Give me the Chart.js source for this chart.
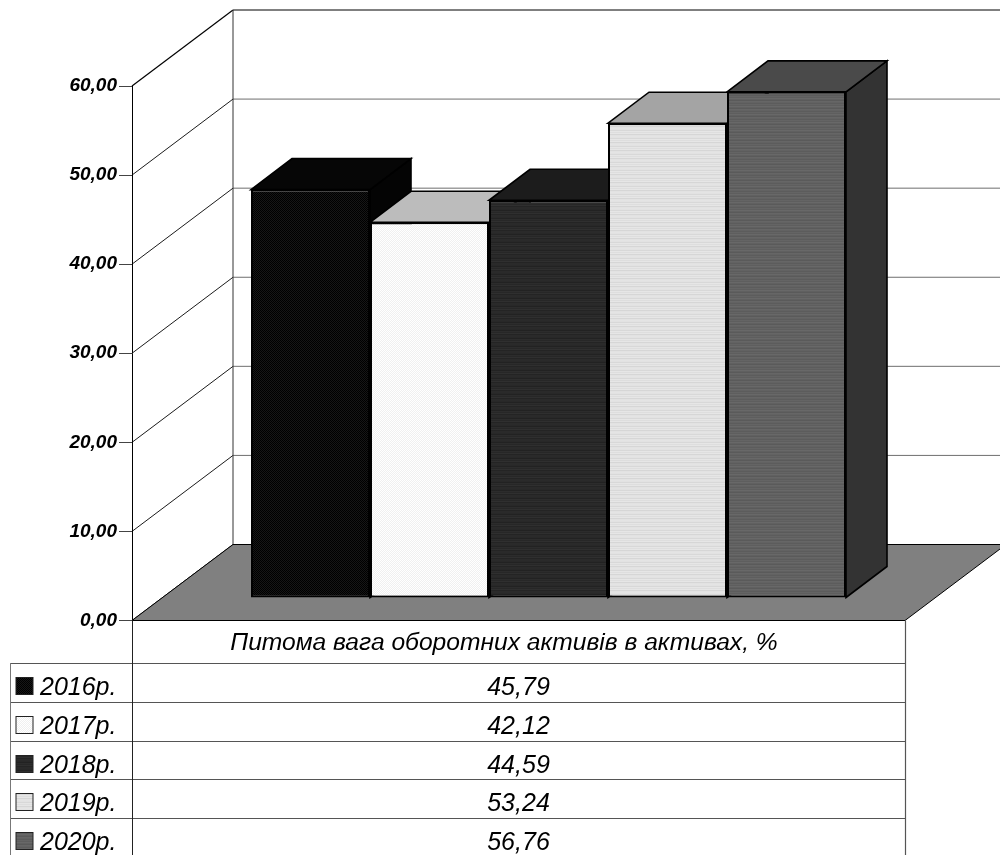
<!DOCTYPE html>
<html>
<head>
<meta charset="utf-8">
<title>Питома вага оборотних активів</title>
<script src="https://cdn.jsdelivr.net/npm/chart.js@4"></script>
<style>
  html, body { margin: 0; padding: 0; background: #fff; }
  canvas { display: block; }
</style>
</head>
<body>
<canvas id="assets_chart" width="1000" height="855"></canvas>
<script>
const categories = ['Питома вага оборотних активів в активах, %'];
const years = ['2016р.', '2017р.', '2018р.', '2019р.', '2020р.'];
const shareValues = [45.79, 42.12, 44.59, 53.24, 56.76];
const yTicks = [0, 10, 20, 30, 40, 50, 60];

// depth of the box in px: whole floor, and the bars standing on it
const floorDepth = { x: 101, y: 76 };
const barDepth = { x: 41, y: 31 };
const barLift = 23;
const tableRight = 905;
const tableLeft = 10;
const tableRows = [663, 702, 741, 779, 818];

const fmt = (v) => v.toFixed(2).replace('.', ',');

// small repeating tiles for the bar fills
function tile(rows, cols) {
    const c = document.createElement('canvas');
    c.width = cols[0].length;
    c.height = rows;
    const g = c.getContext('2d');
    for (let y = 0; y < rows; y++) {
        for (let x = 0; x < cols[0].length; x++) {
            g.fillStyle = cols[y % cols.length][x];
            g.fillRect(x, y, 1, 1);
        }
    }
    return g.createPattern(c, 'repeat');
}

function stripes(shades) {
    return tile(shades.length, shades.map((s) => [s]));
}

const fronts = [
    tile(2, [['#000000', '#161616'], ['#161616', '#000000']]),
    tile(2, [['#ffffff', '#f0f0f0'], ['#f0f0f0', '#ffffff']]),
    stripes(['#2a2a2a', '#282828', '#222222', '#2c2c2c', '#272727', '#2f2f2f', '#242424', '#2a2a2a']),
    stripes(['#e4e4e4', '#e2e2e2', '#d8d8d8', '#e6e6e6', '#dedede', '#e6e6e6', '#d6d6d6', '#e2e2e2']),
    stripes(['#646464', '#5e5e5e', '#686868', '#606060', '#5a5a5a', '#666666', '#626262', '#5c5c5c'])
];
const tops = ['#060606', '#bcbcbc', '#1c1c1c', '#a4a4a4', '#4a4a4a'];
const sides = ['#040404', '#8a8a8a', '#141414', '#707070', '#333333'];

function poly(ctx, pts, fill, stroke, width) {
    ctx.beginPath();
    pts.forEach((p, i) => (i ? ctx.lineTo(p[0], p[1]) : ctx.moveTo(p[0], p[1])));
    ctx.closePath();
    if (fill) {
        ctx.fillStyle = fill;
        ctx.fill();
    }
    if (stroke) {
        ctx.strokeStyle = stroke;
        ctx.lineWidth = width;
        ctx.stroke();
    }
}

function line(ctx, x0, y0, x1, y1, color, width) {
    ctx.beginPath();
    ctx.moveTo(x0, y0);
    ctx.lineTo(x1, y1);
    ctx.strokeStyle = color;
    ctx.lineWidth = width;
    ctx.stroke();
}

const boxPlugin = {
    id: 'box3d',
    // walls and floor go under the bars
    beforeDatasetsDraw(chart) {
        const ctx = chart.ctx;
        const y = chart.scales.y;
        const left = chart.chartArea.left;
        const bottom = y.getPixelForValue(0);
        const backX = left + floorDepth.x;

        ctx.save();
        yTicks.forEach((t) => {
            const py = y.getPixelForValue(t);
            line(ctx, left, py, backX, py - floorDepth.y, '#000', t === 60 ? 1.2 : 0.9);
            if (t > 0) {
                line(ctx, backX, py - floorDepth.y, 1006, py - floorDepth.y, t === 60 ? '#000' : '#6e6e6e', 1);
            }
        });
        line(ctx, backX, y.getPixelForValue(60) - floorDepth.y, backX, bottom - floorDepth.y, '#333', 1);

        poly(ctx, [
            [left, bottom],
            [tableRight, bottom],
            [tableRight + floorDepth.x, bottom - floorDepth.y],
            [backX, bottom - floorDepth.y]
        ], '#808080');
        line(ctx, backX, bottom - floorDepth.y, 1006, bottom - floorDepth.y, '#000', 1.2);
        line(ctx, left, bottom, backX, bottom - floorDepth.y, '#000', 1);
        line(ctx, tableRight, bottom, tableRight + floorDepth.x, bottom - floorDepth.y, '#000', 1);
        line(ctx, left, bottom, tableRight, bottom, '#000', 1.2);
        ctx.restore();
    },
    // bars are painted left to right further down, the near ones have to cover the far ones
    beforeDatasetDraw() {
        return false;
    },
    afterDatasetsDraw(chart) {
        const ctx = chart.ctx;
        ctx.save();
        years.forEach((_, i) => {
            const meta = chart.getDatasetMeta(i);
            const bar = meta.data[0];
            const l = bar.x - bar.width / 2;
            const r = bar.x + bar.width / 2;
            const t = bar.y;
            const b = bar.base;
            const dx = barDepth.x;
            const dy = barDepth.y;
            poly(ctx, [[r, b], [r + dx, b - dy], [r + dx, t - dy], [r, t]], sides[i], '#000', 1.6);
            poly(ctx, [[l, t], [r, t], [r + dx, t - dy], [l + dx, t - dy]], tops[i], '#000', 1.6);
            meta.controller.draw();
        });
        ctx.restore();
    },
    // data table under the floor
    afterDraw(chart) {
        const ctx = chart.ctx;
        const left = chart.chartArea.left;
        const bottom = chart.scales.y.getPixelForValue(0);
        const mid = (left + tableRight) / 2;

        ctx.save();
        tableRows.forEach((py) => line(ctx, tableLeft, py + 0.5, tableRight, py + 0.5, '#555', 1.2));
        line(ctx, tableLeft + 0.5, tableRows[0], tableLeft + 0.5, 855, '#777', 1);
        line(ctx, left + 0.5, bottom, left + 0.5, 855, '#222', 1);
        line(ctx, tableRight + 0.5, bottom, tableRight + 0.5, 855, '#555', 1.2);

        ctx.fillStyle = '#000';
        ctx.textBaseline = 'alphabetic';
        ctx.font = 'italic 24.6px "Liberation Sans"';
        ctx.textAlign = 'center';
        ctx.fillText(categories[0], 504, 650);

        ctx.font = 'italic 25px "Liberation Sans"';
        years.forEach((year, i) => {
            const top = tableRows[i];
            ctx.fillStyle = fronts[i];
            ctx.fillRect(16, top + 14.5, 17, 17);
            ctx.strokeStyle = '#222';
            ctx.lineWidth = 1;
            ctx.strokeRect(16, top + 14.5, 17, 17);

            ctx.fillStyle = '#000';
            ctx.textAlign = 'left';
            ctx.fillText(year, 40, top + 31.5);
            ctx.textAlign = 'center';
            ctx.fillText(fmt(shareValues[i]), mid, top + 31.5);
        });
        ctx.restore();
    }
};

const ctx = document.getElementById('assets_chart').getContext('2d');

const sharesChart = new Chart(ctx, {
    type: 'bar',
    data: {
        labels: categories,
        datasets: years.map((year, i) => ({
            label: year,
            data: [shareValues[i]],
            yAxisID: 'yBars',
            backgroundColor: fronts[i],
            borderColor: '#000',
            borderWidth: 2,
            borderSkipped: false,
            categoryPercentage: 595 / 833,
            barPercentage: 1
        }))
    },
    options: {
        responsive: false,
        animation: false,
        layout: { padding: { top: 86, right: 35, bottom: 234.5, left: 0 } },
        plugins: { legend: { display: false }, tooltip: { enabled: false } },
        scales: {
            x: { display: false },
            y: {
                min: 0,
                max: 60,
                position: 'left',
                afterFit: (scale) => { scale.width = 132; },
                afterBuildTicks: (scale) => { scale.ticks = yTicks.map((value) => ({ value })); },
                border: { color: '#000', width: 1 },
                grid: { drawOnChartArea: false, color: '#444', tickLength: 13 },
                ticks: {
                    padding: 2,
                    color: '#000',
                    font: { family: '"Liberation Sans"', size: 19, weight: 'bold', style: 'italic' },
                    callback: (v) => fmt(v)
                }
            },
            // same scale as y, lifted to the plane the bars stand on
            yBars: {
                display: false,
                min: -barLift * 60 / 534.5,
                max: 60 - barLift * 60 / 534.5
            }
        }
    },
    plugins: [boxPlugin]
});
</script>
</body>
</html>
